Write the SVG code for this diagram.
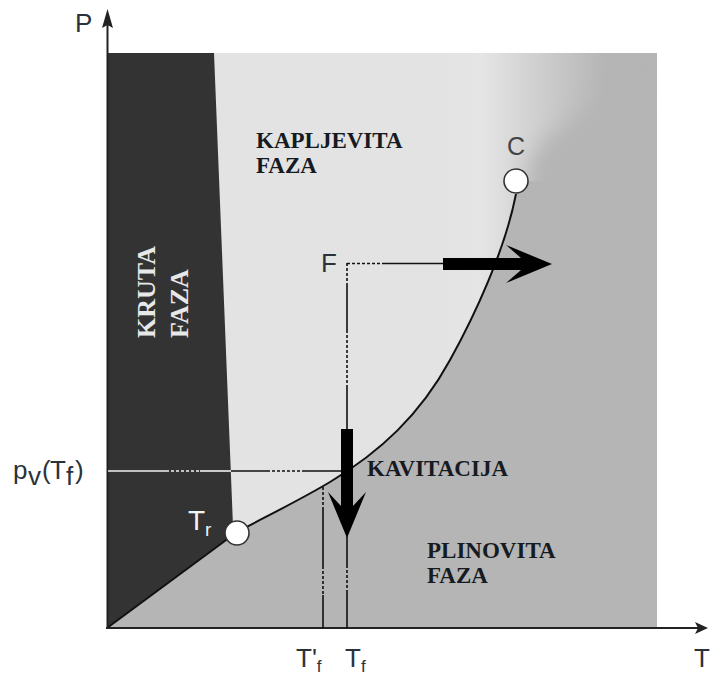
<svg xmlns="http://www.w3.org/2000/svg" width="711" height="677" viewBox="0 0 711 677">
<style>
.sans{font-family:"Liberation Sans",Arial,sans-serif;}
.serif{font-family:"Liberation Serif","Times New Roman",serif;font-weight:bold;font-size:23px;fill:#161a22;}
.krut{font-family:"Liberation Serif","Times New Roman",serif;font-weight:bold;font-size:26px;fill:#e8e8e8;}
.lbl{font-size:26px;fill:#2a323c;}
.guide{stroke:#111;stroke-width:1.6;fill:none;}
.guidew{stroke:#f2f2f2;stroke-width:1.6;fill:none;}
.dot{stroke-dasharray:3 2;}
.pt{fill:#fff;stroke:#333;stroke-width:1.6;}
</style>
<defs>
<linearGradient id="liq" gradientUnits="userSpaceOnUse" x1="440" y1="0" x2="605" y2="0">
<stop offset="0" stop-color="#e3e3e3"/>
<stop offset="0.25" stop-color="#e5e5e5"/>
<stop offset="1" stop-color="#b5b5b5"/>
</linearGradient>
<filter id="soft" x="-60%" y="-60%" width="220%" height="220%">
<feGaussianBlur stdDeviation="10"/>
</filter>
<mask id="gasmask" maskUnits="userSpaceOnUse" x="0" y="0" width="711" height="677">
<rect x="0" y="0" width="711" height="677" fill="#000"/>
<path d="M107,628 L237,532 C265,517 300,500 330,482 C380,452 420,415 450,360 C475,315 505,250 516,194 L516,181 L680,181 L680,628 Z" fill="#fff"/>
<path d="M528,420 L528,165 L545,140 L600,100 L700,70 L700,420 Z" fill="#fff" filter="url(#soft)"/>
</mask>
</defs>
<rect width="711" height="677" fill="#fff"/>
<g id="regions">
<rect id="liquid" x="107" y="53" width="550" height="575" fill="url(#liq)"/>
<rect id="gas" x="107" y="53" width="550" height="575" fill="#b5b5b5" mask="url(#gasmask)"/>
<path id="solid" d="M107,53 H214 L233,526 L237,532 L107,628 Z" fill="#333"/>
<path id="curve-sub" d="M107,628 L237,532" stroke="#111" stroke-width="2" fill="none"/>
<path id="curve-vap" d="M237,532 C265,517 300,500 330,482 C380,452 420,415 450,360 C475,315 505,250 516,194" stroke="#111" stroke-width="2" fill="none"/>
</g>
<g id="axes">
<line x1="107.5" y1="628" x2="107.5" y2="22" stroke="#222" stroke-width="2"/>
<path d="M107.5,9 L113,28 L107.5,25 L102,28 Z" fill="#222"/>
<line x1="106" y1="628" x2="698" y2="628" stroke="#222" stroke-width="2"/>
<path d="M708,628 L695,622 L698,628 L695,634 Z" fill="#222"/>
<text class="sans lbl" x="75" y="32" font-size="27">P</text>
<text class="sans lbl" x="694" y="667">T</text>
<text class="sans lbl" x="13" y="479" font-size="28">p</text>
<text class="sans lbl" x="28" y="485" font-size="18">v</text>
<text class="sans lbl" x="42" y="479" font-size="28">(</text>
<text class="sans lbl" x="50" y="479" font-size="28">T</text>
<text class="sans lbl" x="66" y="485" font-size="18">f</text>
<text class="sans lbl" x="75" y="479" font-size="28">)</text>
<text class="sans lbl" x="296" y="667">T'<tspan font-size="17" dy="5">f</tspan></text>
<text class="sans lbl" x="345" y="667">T<tspan font-size="17" dy="5">f</tspan></text>
</g>
<g id="connectors">
<line class="guidew" x1="108" y1="471" x2="166" y2="471"/>
<line class="guidew dot" x1="166" y1="471" x2="200" y2="471"/>
<line class="guidew" x1="200" y1="471" x2="231" y2="471"/>
<line class="guide" x1="231" y1="471" x2="267" y2="471"/>
<line class="guide dot" x1="267" y1="471" x2="303" y2="471"/>
<line class="guide" x1="303" y1="471" x2="343" y2="471"/>
<line class="guide dot" x1="347" y1="263.5" x2="383" y2="263.5"/>
<line class="guide" x1="383" y1="263.5" x2="444" y2="263.5"/>
<path id="arrow-right" d="M443,258 H521 L506,245 L552,264 L506,283 L521,270 H443 Z" fill="#000"/>
<line class="guide dot" x1="347" y1="263" x2="347" y2="283"/>
<line class="guide" x1="347" y1="283" x2="347" y2="330"/>
<line class="guide dot" x1="347" y1="330" x2="347" y2="385"/>
<line class="guide" x1="347" y1="385" x2="347" y2="430"/>
<path id="arrow-down" d="M341,429 H353 V506 L366,492 L347,538 L328,492 L341,506 Z" fill="#000"/>
<line class="guide" x1="347" y1="536" x2="347" y2="565"/>
<line class="guide dot" x1="347" y1="565" x2="347" y2="593"/>
<line class="guide" x1="347" y1="593" x2="347" y2="628"/>
<line class="guide dot" x1="323" y1="487" x2="323" y2="510"/>
<line class="guide" x1="323" y1="510" x2="323" y2="566"/>
<line class="guide dot" x1="323" y1="566" x2="323" y2="595"/>
<line class="guide" x1="323" y1="595" x2="323" y2="628"/>
</g>
<g id="node-Tr">
<circle class="pt" cx="237" cy="533" r="12"/>
<text class="sans" x="188" y="530" font-size="28" fill="#f2f4f6">T<tspan font-size="19" dy="6">r</tspan></text>
</g>
<g id="node-C">
<circle class="pt" cx="516" cy="181" r="12"/>
<text class="sans" x="507" y="155" font-size="25" fill="#444">C</text>
</g>
<g id="node-F">
<text class="sans lbl" x="321" y="272">F</text>
</g>
<g id="labels">
<text class="krut" transform="translate(155,338) rotate(-90)">KRUTA</text>
<text class="krut" transform="translate(188,338) rotate(-90)">FAZA</text>
<text class="serif" x="256" y="148">KAPLJEVITA</text>
<text class="serif" x="256" y="173">FAZA</text>
<text class="serif" x="367" y="476">KAVITACIJA</text>
<text class="serif" x="427" y="558">PLINOVITA</text>
<text class="serif" x="427" y="583">FAZA</text>
</g>
</svg>
